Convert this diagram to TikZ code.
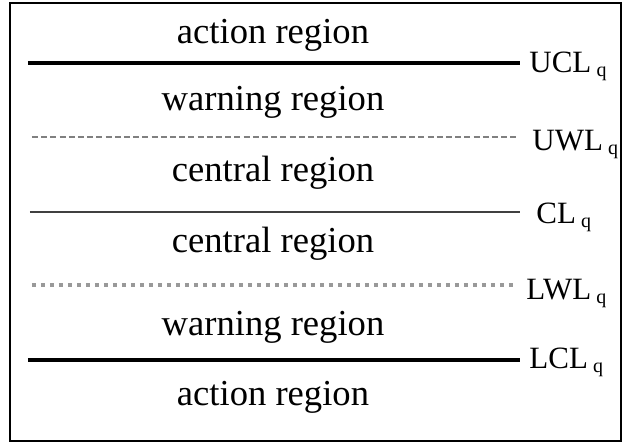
\documentclass[tikz,border=0pt]{standalone}
\usepackage{fontspec}
\setmainfont{Liberation Serif}
\newcommand{\ctrlname}[1]{#1\,\raisebox{-0.35ex}{\fontsize{10}{10}\selectfont q}}

\begin{document}
\begin{tikzpicture}[x=0.5pt,y=-0.5pt]
\tikzstyle{every node}+=[inner sep=0pt]
\tikzstyle{region}=[font=\fontsize{18.3}{20}\selectfont,anchor=base]
\tikzstyle{limit}=[font=\fontsize{15.5}{16}\selectfont,anchor=base west]
\tikzstyle{hardline}=[black,line width=2.2pt]
\tikzstyle{warnline}=[gray,line width=1pt,dash pattern=on 3pt off 1.6pt]
\useasboundingbox (0,0) rectangle (629,445);
\draw [black, line width=1pt] (10,3) rectangle (621,441);
% control limits
\coordinate (ucla) at (28,63);  \coordinate (uclb) at (520,63);
\coordinate (uwla) at (32,137); \coordinate (uwlb) at (517,137);
\coordinate (cla) at (30,212);  \coordinate (clb) at (520,212);
\coordinate (lwla) at (32,285); \coordinate (lwlb) at (517,285);
\coordinate (lcla) at (28,360); \coordinate (lclb) at (520,360);
\draw [hardline] (ucla) -- (uclb);
\draw [warnline] (uwla) -- (uwlb);
\draw [black!75, line width=0.75pt] (cla) -- (clb);
\draw [gray!80, line width=2pt, dash pattern=on 2.2pt off 2.3pt] (lwla) -- (lwlb);
\draw [hardline] (lcla) -- (lclb);
\node [limit] (ucl) at (529,72) {\ctrlname{UCL}};
\node [limit] (uwl) at (532,150) {\ctrlname{UWL}};
\node [limit] (cl) at (536,223) {\ctrlname{CL}\,};
\node [limit] (lwl) at (526,299) {\ctrlname{LWL}};
\node [limit] (lcl) at (529,368) {\ctrlname{LCL}\,};
% regions
\node [region] (act1) at (273,43) {action region};
\node [region] (warn1) at (273,110) {warning region};
\node [region] (cent1) at (273,181) {central region};
\node [region] (cent2) at (273,252) {central region};
\node [region] (warn2) at (273,335) {warning region};
\node [region] (act2) at (273,405) {action region};
\end{tikzpicture}
\end{document}
